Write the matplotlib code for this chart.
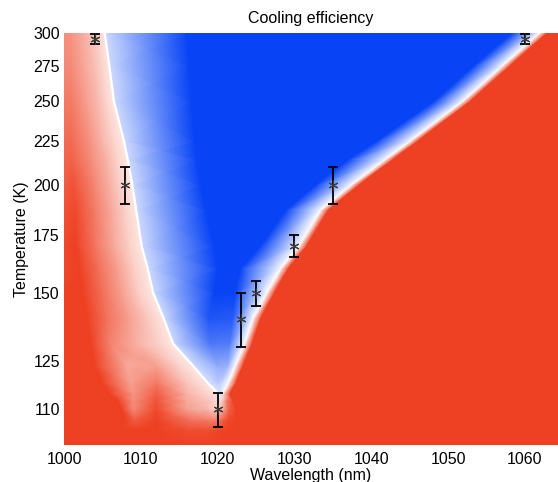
import numpy as np
import matplotlib
matplotlib.use('Agg')
import matplotlib.pyplot as plt
from matplotlib.colors import LinearSegmentedColormap
from matplotlib.ticker import NullLocator

plt.rcParams['font.family'] = ['Liberation Sans', 'DejaVu Sans']

# ---------------- data ----------------
# temperature rows (K)
temps = [100, 104, 107, 110, 112.5, 114.6, 118, 123.5, 131, 140,
         150, 160, 170, 187, 200, 214, 225, 250, 275, 300]

# wavelength knots per row (nm); same number of knots in every row
knot_nm = [
    [1000, 1007.0, 1009.0, 1012.0, 1016.0, 1018.5, 1019.5, 1020.2, 1020.8, 1021.4, 1022.4, 1064.3],
    [1000, 1007.0, 1009.0, 1012.0, 1016.0, 1018.5, 1019.5, 1020.2, 1020.8, 1021.4, 1022.4, 1064.3],
    [1000, 1008.0, 1009.2, 1012.0, 1016.5, 1018.5, 1019.5, 1020.2, 1020.8, 1021.4, 1022.4, 1064.3],
    [1000, 1007.5, 1009.0, 1012.0, 1016.0, 1018.6, 1019.5, 1020.2, 1020.8, 1021.4, 1022.4, 1064.3],
    [1000, 1007.0, 1009.0, 1012.0, 1016.0, 1019.3, 1019.9, 1020.3, 1020.7, 1021.1, 1022.0, 1064.3],
    [1000, 1006.0, 1009.0, 1012.1, 1016.0, 1020.1, 1020.15, 1020.3, 1020.45, 1020.6, 1021.6, 1064.3],
    [1000, 1005.0, 1008.6, 1012.1, 1016.0, 1018.7, 1018.75, 1020.0, 1020.5, 1021.4, 1022.4, 1064.3],
    [1000, 1004.0, 1008.2, 1012.1, 1015.0, 1016.8, 1016.85, 1020.0, 1021.3, 1022.3, 1023.3, 1064.3],
    [1000, 1003.5, 1006.0, 1009.5, 1012.5, 1014.2, 1014.25, 1019.0, 1021.6, 1023.5, 1024.5, 1064.3],
    [1000, 1003.0, 1005.5, 1008.5, 1011.0, 1013.0, 1013.05, 1018.8, 1022.0, 1024.6, 1025.6, 1064.3],
    [1000, 1002.5, 1005.0, 1007.5, 1009.8, 1011.6, 1011.65, 1019.6, 1022.3, 1026.4, 1027.4, 1064.3],
    [1000, 1002.0, 1004.5, 1007.0, 1009.2, 1010.9, 1010.95, 1020.0, 1023.0, 1028.2, 1029.2, 1064.3],
    [1000, 1001.5, 1004.0, 1006.5, 1008.5, 1010.1, 1010.15, 1019.5, 1025.6, 1030.6, 1031.6, 1064.3],
    [1000, 1001.5, 1004.0, 1006.3, 1008.0, 1009.4, 1009.45, 1018.5, 1028.9, 1033.4, 1034.4, 1064.3],
    [1000, 1001.3, 1004.0, 1006.0, 1007.5, 1008.9, 1008.95, 1017.8, 1032.8, 1037.4, 1038.4, 1064.3],
    [1000, 1001.0, 1003.5, 1005.5, 1007.0, 1008.3, 1008.35, 1017.3, 1037.0, 1041.8, 1042.8, 1064.3],
    [1000, 1001.0, 1003.5, 1005.0, 1006.5, 1007.8, 1007.85, 1017.0, 1040.8, 1045.1, 1046.1, 1064.3],
    [1000, 1001.0, 1003.0, 1004.5, 1005.5, 1006.5, 1006.55, 1016.6, 1048.2, 1051.9, 1052.9, 1064.3],
    [1000, 1001.0, 1002.7, 1004.0, 1005.0, 1005.9, 1005.95, 1016.3, 1053.4, 1057.1, 1058.1, 1064.3],
    [1000, 1001.0, 1002.5, 1003.5, 1004.5, 1005.3, 1005.35, 1016.0, 1058.4, 1061.9, 1062.9, 1064.3],
]

# cooling efficiency (normalised, -1 heating ... +1 cooling) at those knots
knot_eff = [
    [-1, -1, -1, -1, -1, -1, -1, -1, -1, -1, -1, -1],
    [-1, -1, -1, -1, -0.93, -0.93, -0.95, -0.97, -1, -1, -1, -1],
    [-1, -1, -0.85, -1, -0.72, -0.68, -0.65, -0.7, -0.85, -0.95, -1, -1],
    [-1, -1, -0.62, -0.95, -0.5, -0.38, -0.28, -0.3, -0.5, -0.8, -1, -1],
    [-1, -1, -0.58, -0.9, -0.45, -0.28, -0.18, -0.2, -0.35, -0.65, -1, -1],
    [-1, -1, -0.55, -0.85, -0.4, -0.12, 0.1, 0.12, 0.08, 0, -1, -1],
    [-1, -1, -0.5, -0.7, -0.3, -0.12, 0.15, 0.27, 0.24, 0, -1, -1],
    [-1, -1, -0.45, -0.5, -0.22, -0.12, 0.18, 0.45, 0.42, 0, -1, -1],
    [-1, -1, -0.65, -0.4, -0.22, -0.12, 0.2, 0.72, 0.7, 0, -1, -1],
    [-1, -1, -0.75, -0.5, -0.28, -0.12, 0.2, 0.9, 0.87, 0, -1, -1],
    [-1, -1, -0.75, -0.5, -0.25, -0.12, 0.2, 1, 1, 0, -1, -1],
    [-0.95, -1, -0.75, -0.5, -0.25, -0.12, 0.2, 1, 1, 0, -1, -1],
    [-0.95, -1, -0.72, -0.45, -0.25, -0.12, 0.2, 1, 1, 0, -1, -1],
    [-0.9, -0.95, -0.68, -0.43, -0.24, -0.12, 0.2, 1, 1, 0, -1, -1],
    [-0.85, -0.9, -0.62, -0.4, -0.22, -0.12, 0.2, 1, 1, 0, -1, -1],
    [-0.8, -0.82, -0.6, -0.4, -0.22, -0.12, 0.2, 1, 1, 0, -1, -1],
    [-0.78, -0.78, -0.55, -0.38, -0.22, -0.12, 0.2, 1, 1, 0, -1, -1],
    [-0.7, -0.68, -0.5, -0.35, -0.22, -0.12, 0.2, 1, 1, 0, -1, -1],
    [-0.62, -0.6, -0.45, -0.33, -0.22, -0.12, 0.2, 1, 1, 0, -1, -1],
    [-0.6, -0.55, -0.43, -0.33, -0.22, -0.12, 0.2, 1, 1, 0, -1, -1],
]

# zero-efficiency (left) boundary rows: from the V vertex upward
boundary_row_start = 5
boundary_col = 5

# measured points with error bars
pt_nm = [1004, 1008, 1020, 1023, 1025, 1030, 1035, 1060]
pt_T = [295, 200, 110, 140, 150, 170, 200, 295]
pt_err = [4, 10, 5, 10, 5, 5, 10, 4]

ytick_vals = [110, 125, 150, 175, 200, 225, 250, 275, 300]
xtick_vals = [1000, 1010, 1020, 1030, 1040, 1050, 1060]

# ---------------- plotting ----------------
red = (238/255, 64/255, 34/255)
blue = (8/255, 68/255, 245/255)
cmap = LinearSegmentedColormap.from_list('coolheat', [red, (1, 1, 1), blue])

fig = plt.figure(figsize=(5.58, 4.82), dpi=100)
ax = fig.add_axes([64/558, 1 - 445/482, (558 - 64)/558, (445 - 33)/482])

X = np.array(knot_nm, dtype=float)
Z = np.array(knot_eff, dtype=float)
Y = np.repeat(np.array(temps, dtype=float)[:, None], X.shape[1], axis=1)
ax.pcolormesh(X, Y, Z, shading='gouraud', cmap=cmap, vmin=-1, vmax=1,
              antialiased=True)

# white zero-efficiency line on the left edge of the cooling window
ax.plot(X[boundary_row_start:, boundary_col], np.array(temps)[boundary_row_start:],
        color='white', lw=1.6, solid_capstyle='round', solid_joinstyle='round')

ax.errorbar(pt_nm, pt_T, yerr=pt_err, fmt='none', ecolor='black',
            elinewidth=1.3, capsize=3.5, capthick=1.3, zorder=5)
ax.plot(pt_nm, pt_T, linestyle='none', marker=(6, 2, 0), ms=7,
        mec='#3a3a3a', mew=0.8, zorder=6)

ax.set_yscale('log')
ax.set_xlim(1000, 1064.3)
ax.set_ylim(100, 300)
ax.set_yticks(ytick_vals)
ax.set_yticklabels([str(v) for v in ytick_vals])
ax.yaxis.set_minor_locator(NullLocator())
ax.set_xticks(xtick_vals)
ax.set_xticklabels([str(v) for v in xtick_vals])
ax.tick_params(axis='both', length=0, labelsize=11.5)
ax.tick_params(axis='x', pad=5)
ax.tick_params(axis='y', pad=3)
for s in ax.spines.values():
    s.set_visible(False)

ax.set_title('Cooling efficiency', fontsize=11.5, pad=7)
ax.set_xlabel('Wavelength (nm)', fontsize=11.5, labelpad=1)
ax.set_ylabel('Temperature (K)', fontsize=11.5, labelpad=3)

fig.savefig('out.png', dpi=100)
